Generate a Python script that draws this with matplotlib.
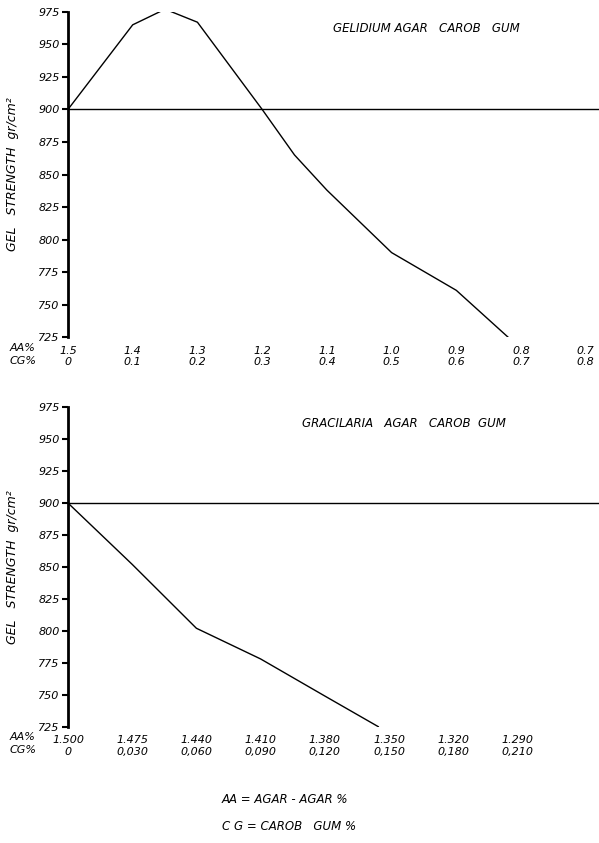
import matplotlib
matplotlib.use("Agg")
import matplotlib.pyplot as plt

yticks = [725, 750, 775, 800, 825, 850, 875, 900, 925, 950, 975]
top_cg = [0.0, 0.1, 0.15, 0.2, 0.3, 0.35, 0.4, 0.5, 0.6, 0.68]
top_gs = [900, 965, 977, 967, 900, 865, 838, 790, 761, 725]
top_aa_labels = ["1.5", "1.4", "1.3", "1.2", "1.1", "1.0", "0.9", "0.8", "0.7"]
top_cg_labels = ["0", "0.1", "0.2", "0.3", "0.4", "0.5", "0.6", "0.7", "0.8"]
top_ticks = [0, 0.1, 0.2, 0.3, 0.4, 0.5, 0.6, 0.7, 0.8]

bot_cg = [0.0, 0.030, 0.060, 0.090, 0.120, 0.145]
bot_gs = [900, 852, 802, 778, 749, 725]
bot_aa_labels = ["1.500", "1.475", "1.440", "1.410", "1.380", "1.350", "1.320", "1.290"]
bot_cg_labels = ["0", "0,030", "0,060", "0,090", "0,120", "0,150", "0,180", "0,210"]
bot_ticks = [0, 0.03, 0.06, 0.09, 0.12, 0.15, 0.18, 0.21]

fig = plt.figure(figsize=(5.99, 8.43), dpi=100)
kw = dict(fontsize=8, style="italic")

def setup(ax, xmax, ticks, aa, cg, title, tx):
    ax.set_xlim(0, xmax); ax.set_ylim(725, 975)
    for s in ["top", "right", "bottom"]:
        ax.spines[s].set_visible(False)
    ax.spines["left"].set_linewidth(2)
    ax.set_yticks(yticks)
    ax.set_yticklabels([str(v) for v in yticks], **kw)
    ax.tick_params(axis="y", length=4, width=1.5, pad=2)
    ax.set_xticks(ticks)
    ax.set_xticklabels([f"{a}\n{c}" for a, c in zip(aa, cg)], **kw, ha="center")
    ax.tick_params(axis="x", length=0, pad=6)
    ax.axhline(900, color="black", lw=1)
    ax.text(tx, 0.97, title, transform=ax.transAxes, fontsize=8.5, style="italic", va="top")
    ax.text(-0.105, 0.5, "GEL   STRENGTH  gr/cm²", transform=ax.transAxes, rotation=90,
            fontsize=9, style="italic", va="center", ha="center")
    ax.text(-0.11, -0.018, "AA%", transform=ax.transAxes, **kw, va="top")
    ax.text(-0.11, -0.058, "CG%", transform=ax.transAxes, **kw, va="top")

ax1 = fig.add_axes([0.1135, 0.600, 0.886, 0.386])
ax1.plot(top_cg, top_gs, color="black", lw=1)
setup(ax1, 0.82, top_ticks, top_aa_labels, top_cg_labels, "GELIDIUM AGAR   CAROB   GUM", 0.50)

ax2 = fig.add_axes([0.1135, 0.138, 0.886, 0.379])
ax2.plot(bot_cg, bot_gs, color="black", lw=1)
setup(ax2, 0.248, bot_ticks, bot_aa_labels, bot_cg_labels, "GRACILARIA   AGAR   CAROB  GUM", 0.44)

fig.text(0.37, 0.048, "AA = AGAR - AGAR %", fontsize=8.5, style="italic")
fig.text(0.37, 0.015, "C G = CAROB   GUM %", fontsize=8.5, style="italic")
fig.savefig("out.png", dpi=100)
